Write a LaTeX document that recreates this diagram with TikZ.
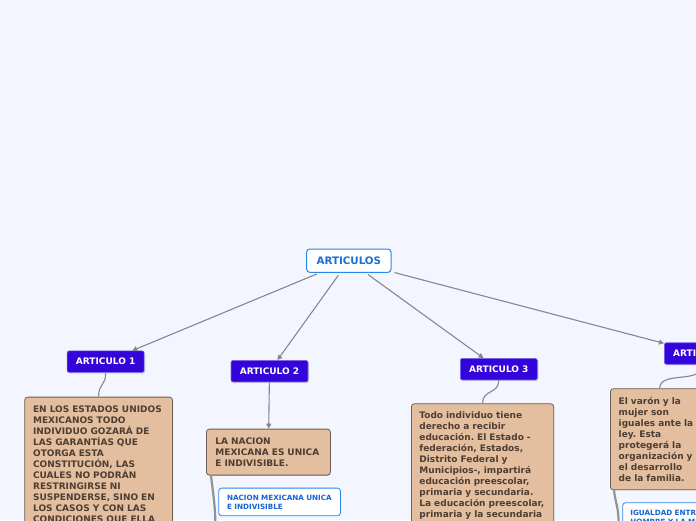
\documentclass[tikz,border=0pt]{standalone}
\usepackage{fontspec}
\setmainfont{DejaVu Sans}
\usetikzlibrary{arrows.meta,shadows}
\frenchspacing
\definecolor{bg}{RGB}{243,246,254}
\definecolor{rootblue}{RGB}{40,135,235}
\definecolor{roottext}{RGB}{25,110,215}
\definecolor{artfill}{RGB}{52,5,218}
\definecolor{artedge}{RGB}{120,100,235}
\definecolor{tan}{RGB}{227,191,160}
\definecolor{tanedge}{RGB}{110,95,82}
\definecolor{tantext}{RGB}{78,62,50}
\definecolor{subtext}{RGB}{20,100,210}
\definecolor{linegray}{RGB}{135,135,140}
\tikzset{
  rootbox/.style={draw=rootblue, line width=1pt, fill=white, rounded corners=3pt,
    minimum width=84.3pt, minimum height=23.3pt, inner sep=0pt,
    text=roottext, font=\fontsize{10.3}{12}\selectfont\bfseries},
  artbox/.style={draw=artedge, line width=0.6pt, fill=artfill, rounded corners=2pt,
    minimum width=77pt, minimum height=21.5pt, inner sep=0pt,
    text=white, font=\fontsize{9}{11}\selectfont\bfseries,
    drop shadow={shadow xshift=1.2pt, shadow yshift=-1.2pt, opacity=0.25}},
  notebox/.style={draw=tanedge, line width=0.8pt, fill=tan, rounded corners=3pt,
    anchor=north west, align=left, text=tantext,
    font=\fontsize{9}{11}\selectfont\bfseries,
    drop shadow={shadow xshift=0.8pt, shadow yshift=-0.8pt, opacity=0.15}},
  subbox/.style={draw=rootblue, line width=0.8pt, fill=white, rounded corners=3pt,
    anchor=north west, align=left, text=subtext,
    font=\fontsize{7.2}{9}\selectfont\bfseries},
  arrowline/.style={draw=linegray, line width=1.1pt,
    -{Triangle[length=5pt,width=5pt]}},
  curveline/.style={draw=linegray, line width=1.1pt},
  childline/.style={draw=linegray!90, line width=2.2pt},
}
\begin{document}
\begin{tikzpicture}[x=1pt,y=-1pt]
\useasboundingbox (0,0) rectangle (696,520);
\fill[bg] (0,0) rectangle (696,520);
\clip (0,0) rectangle (696,520);

% main nodes
\node[rootbox] (root) at (348.85,260.65) {ARTICULOS};
\node[artbox] (a1) at (105.65,361.65) {ARTICULO 1};
\node[artbox] (a2) at (269.5,371.2) {ARTICULO 2};
\node[artbox] (a3) at (498.8,369.2) {ARTICULO 3};
\node[artbox] (a4) at (702.8,353.5) {ARTICULO 4};

% text boxes
\node[notebox, text width=131pt, inner xsep=8.4pt, inner ysep=9pt] (t1) at (24.3,396.7)
 {\mbox{EN LOS ESTADOS UNIDOS}\\\mbox{MEXICANOS TODO}\\\mbox{INDIVIDUO GOZARÁ DE}\\\mbox{LAS GARANTÍAS QUE}\\\mbox{OTORGA ESTA}\\\mbox{CONSTITUCIÓN, LAS}\\\mbox{CUALES NO PODRÁN}\\\mbox{RESTRINGIRSE NI}\\\mbox{SUSPENDERSE, SINO EN}\\\mbox{LOS CASOS Y CON LAS}\\\mbox{CONDICIONES QUE ELLA}};
\node[notebox, text width=106pt, inner xsep=9pt, inner ysep=8.6pt] (t2) at (206,428.7)
 {\mbox{LA NACION}\\\mbox{MEXICANA ES UNICA}\\\mbox{E INDIVISIBLE.}};
\node[notebox, text width=126.3pt, inner xsep=8pt, inner ysep=7.7pt] (t3) at (411,403.3)
 {\mbox{Todo individuo tiene}\\\mbox{derecho a recibir}\\\mbox{educación. El Estado -}\\\mbox{federación, Estados,}\\\mbox{Distrito Federal y}\\\mbox{Municipios-, impartirá}\\\mbox{educación preescolar,}\\\mbox{primaria y secundaria.}\\\mbox{La educación preescolar,}\\\mbox{primaria y la secundaria}};
\node[notebox, text width=82pt, inner xsep=8.3pt, inner ysep=8.4pt] (t4) at (610,388.3)
 {\mbox{El varón y la}\\\mbox{mujer son}\\\mbox{iguales ante la}\\\mbox{ley. Esta}\\\mbox{protegerá la}\\\mbox{organización y}\\\mbox{el desarrollo}\\\mbox{de la familia.}};

% sub boxes
\node[subbox, text width=105pt, inner xsep=8.4pt, inner ysep=6.6pt] (s2) at (218.3,487.7)
 {\mbox{NACION MEXICANA UNICA}\\\mbox{E INDIVISIBLE}};
\node[subbox, text width=105pt, inner xsep=7.7pt, inner ysep=7.5pt] (s4) at (622.3,502.3)
 {\mbox{IGUALDAD ENTRE}\\\mbox{HOMBRE Y LA MUJER}};

% connectors from root
\draw[arrowline, shorten <=3pt] (root) -- (a1);
\draw[arrowline, shorten <=3pt] (root) -- (a2);
\draw[arrowline, shorten <=3pt] (root) -- (a3);
\draw[arrowline, shorten <=3pt] (root) -- (a4);

% connectors to text boxes
\draw[curveline] (a1.south) .. controls +(0,14) and +(0,-14) .. (t1.north);
\draw[arrowline] (a2) -- (t2);
\draw[curveline] (a3.south) .. controls +(0,14) and +(0,-14) .. (t3.north);
\draw[curveline] (a4.south) .. controls +(0,20) and +(0,-18) .. (t4.north);

% child lines running down
\coordinate (c2) at (215.5,530);
\coordinate (c4) at (618.8,530);
\draw[childline] ([xshift=5pt]t2.south west) .. controls +(1.5,14) and +(0,-25) .. (c2);
\draw[childline] ([xshift=4pt]t4.south west) .. controls +(1.5,14) and +(0,-25) .. (c4);
\end{tikzpicture}
\end{document}
